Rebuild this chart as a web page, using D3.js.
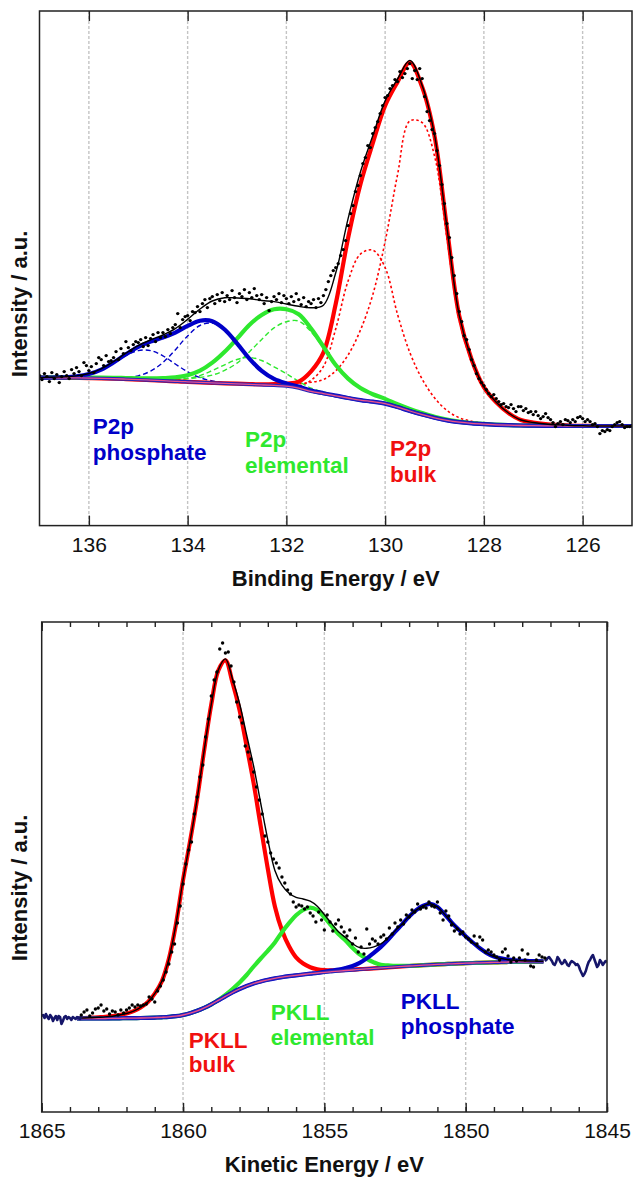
<!DOCTYPE html>
<html>
<head>
<meta charset="utf-8">
<script src="https://cdn.jsdelivr.net/npm/d3@7"></script>
<style>
  body { margin: 0; background: #fff; }
  text { font-family: "Liberation Sans", Arial, Helvetica, sans-serif; }
</style>
</head>
<body>
<div id="chart"></div>
<script>
// ---------- P2p panel: binding energy (eV), intensity (a.u.) ----------
// fitted curves sampled every 0.25 eV from 137 eV down to 125 eV
var p2pStart = 137, p2pStep = -0.25;
var p2pBackground = [
  147.9, 147.9, 147.8, 147.7,
  147.5, 147.2, 146.9, 146.5,
  146.0, 145.5, 144.9, 144.3,
  143.8, 143.2, 142.7, 142.2,
  141.7, 141.2, 140.7, 140.2,
  139.5, 137.5, 134.3, 132.0,
  129.8, 127.6, 125.5, 123.9,
  122.0, 118.5, 114.6, 111.0,
  107.8, 105.2, 103.4, 102.2,
  101.4, 100.8, 100.4, 100.1,
  99.9, 99.8, 99.7, 99.6,
  99.6, 99.6, 99.6, 99.6,
  99.6
];
var p2pFit = [
  147.9, 148.4, 148.7, 149.7,
  152.1, 156.75, 164.0, 172.4,
  180.05, 185.7, 190.6, 196.9,
  206.2, 216.6, 224.6, 227.8,
  227.6, 226.9, 225.1, 224.0,
  221.6, 219.3, 217.8, 220.4,
  252.8, 307.0, 353.55, 389.85,
  424.75, 446.4, 465.2, 440.1,
  390.9, 299.0, 210.5, 166.8,
  138.7, 123.4, 112.6, 105.6,
  103.1, 101.6, 100.7, 100.1,
  99.8, 99.6, 99.6, 99.6,
  99.6
];
var p2pBulk = [
  147.9, 147.9, 147.8, 147.7,
  147.5, 147.2, 146.9, 146.5,
  146.0, 145.5, 144.9, 144.3,
  143.8, 143.2, 142.7, 142.2,
  141.9, 141.5, 141.2, 141.4,
  142.1, 144.0, 154.3, 173.0,
  221.8, 287.6, 341.5, 382.4,
  420.0, 443.5, 463.1, 438.5,
  389.8, 298.2, 209.9, 166.4,
  138.4, 123.2, 112.5, 105.6,
  103.1, 101.6, 100.7, 100.1,
  99.8, 99.6, 99.6, 99.6,
  99.6
];
var p2pBulk32 = [
  147.9, 147.9, 147.8, 147.7,
  147.5, 147.2, 146.9, 146.5,
  146.0, 145.5, 144.9, 144.3,
  143.8, 143.2, 142.7, 142.2,
  141.9, 141.5, 141.2, 141.4,
  142.0, 142.0, 143.3, 146.0,
  154.8, 170.6, 195.5, 230.9,
  284.0, 350.5, 404.6, 403.0,
  369.8, 288.2, 205.4, 164.2,
  137.4, 122.8, 112.4, 105.6,
  103.1, 101.6, 100.7, 100.1,
  99.8, 99.6, 99.6, 99.6,
  99.6
];
var p2pBulk12 = [
  147.9, 147.9, 147.8, 147.7,
  147.5, 147.2, 146.9, 146.5,
  146.0, 145.5, 144.9, 144.3,
  143.8, 143.2, 142.7, 142.2,
  141.7, 141.2, 140.7, 140.2,
  139.6, 139.5, 145.3, 159.0,
  196.8, 244.6, 271.5, 275.4,
  258.0, 211.5, 173.1, 146.5,
  127.8, 115.2, 107.9, 104.4,
  102.4, 101.2, 100.5, 100.1,
  99.9, 99.8, 99.7, 99.6,
  99.6, 99.6, 99.6, 99.6,
  99.6
];
var p2pElemental = [
  147.9, 148.2, 148.2, 148.2,
  148.1, 147.9, 147.8, 147.6,
  147.3, 147.2, 147.5, 148.2,
  150.3, 154.9, 162.9, 173.8,
  186.9, 200.7, 210.6, 216.3,
  216.3, 211.3, 197.0, 179.0,
  160.6, 147.0, 137.55, 131.35,
  126.75, 121.4, 116.7, 112.6,
  108.9, 106.0, 104.0, 102.6,
  101.7, 101.0, 100.5, 100.1,
  99.9, 99.8, 99.7, 99.6,
  99.6, 99.6, 99.6, 99.6,
  99.6
];
var p2pElemental32 = [
  147.9, 148.2, 148.2, 148.2,
  148.1, 147.9, 147.7, 147.4,
  147.0, 146.7, 146.6, 146.6,
  147.1, 148.1, 150.5, 155.2,
  162.5, 173.7, 186.2, 197.7,
  203.9, 204.5, 193.8, 177.4,
  159.7, 146.5, 137.2, 131.1,
  126.6, 121.4, 116.7, 112.6,
  108.9, 106.0, 104.0, 102.6,
  101.7, 101.0, 100.5, 100.1,
  99.9, 99.8, 99.7, 99.6,
  99.6, 99.6, 99.6, 99.6,
  99.6
];
var p2pElemental12 = [
  147.9, 147.9, 147.8, 147.7,
  147.5, 147.2, 147.0, 146.7,
  146.3, 146.0, 145.8, 145.9,
  147.0, 150.0, 155.1, 160.8,
  166.1, 168.2, 165.1, 158.8,
  151.9, 144.3, 137.5, 133.6,
  130.7, 128.1, 125.85, 124.15,
  122.15, 118.5, 114.6, 111.0,
  107.8, 105.2, 103.4, 102.2,
  101.4, 100.8, 100.4, 100.1,
  99.9, 99.8, 99.7, 99.6,
  99.6, 99.6, 99.6, 99.6,
  99.6
];
var p2pPhosphate = [
  147.9, 148.1, 148.3, 149.2,
  151.5, 156.05, 163.1, 171.3,
  178.75, 184.0, 188.0, 193.0,
  199.7, 204.9, 204.4, 196.1,
  182.2, 167.0, 154.7, 146.7,
  142.2, 139.0, 135.1, 132.4,
  130.0, 127.6, 125.5, 123.9,
  122.0, 118.5, 114.6, 111.0,
  107.8, 105.2, 103.4, 102.2,
  101.4, 100.8, 100.4, 100.1,
  99.9, 99.8, 99.7, 99.6,
  99.6, 99.6, 99.6, 99.6,
  99.6
];
var p2pPhosphate32 = [
  147.9, 147.9, 147.8, 147.7,
  147.5, 147.3, 147.3, 147.8,
  149.75, 154.5, 163.1, 175.7,
  189.7, 200.1, 202.5, 195.5,
  182.0, 167.0, 154.7, 146.7,
  142.0, 139.0, 135.1, 132.4,
  130.0, 127.6, 125.5, 123.9,
  122.0, 118.5, 114.6, 111.0,
  107.8, 105.2, 103.4, 102.2,
  101.4, 100.8, 100.4, 100.1,
  99.9, 99.8, 99.7, 99.6,
  99.6, 99.6, 99.6, 99.6,
  99.6
];
var p2pPhosphate12 = [
  147.9, 148.1, 148.3, 149.2,
  151.5, 155.95, 162.7, 170.0,
  175.0, 175.0, 169.8, 161.6,
  153.8, 148.0, 144.6, 142.8,
  141.9, 141.2, 140.7, 140.2,
  139.5, 137.5, 134.3, 132.0,
  129.8, 127.6, 125.5, 123.9,
  122.0, 118.5, 114.6, 111.0,
  107.8, 105.2, 103.4, 102.2,
  101.4, 100.8, 100.4, 100.1,
  99.9, 99.8, 99.7, 99.6,
  99.6, 99.6, 99.6, 99.6,
  99.6
];
// measured points, every 0.05 eV from 137 eV down to 125 eV
var p2pDotStart = 137, p2pDotStep = -0.05;
var p2pCounts = [
  150, 146, 152, 149, 144,  153, 147, 151, 143, 149,
  154, 150, 147, 156, 152,  158, 154, 150, 163, 160,
  155, 159, 153, 162, 168,  166, 160, 170, 164, 165,
  168, 174, 166, 177, 172,  184, 178, 175, 181, 184,
  183, 186, 179, 188, 180,  187, 191, 184, 193, 188,
  193, 189, 196, 192, 198,  201, 212, 198, 206, 209,
  210, 205, 214, 213, 219,  214, 222, 226, 218, 227,
  229, 222, 231, 225, 233,  224, 230, 226, 235, 228,
  223, 232, 229, 236, 226,  233, 228, 237, 230, 226,
  231, 222, 228, 215, 224,  229, 226, 232, 223, 230,
  227, 222, 229, 224, 232,  226, 221, 228, 219, 224,
  222, 226, 218, 227, 223,  230, 236, 244, 250, 255,
  258, 262, 270, 276, 285,  300, 312, 320, 334, 340,
  350, 362, 368, 380, 378,  392, 398, 404, 412, 420,
  428, 430, 437, 440, 446,  444, 454, 448, 452, 457,
  462, 447, 455, 446, 457,  447, 429, 414, 405, 396,
  392, 375, 360, 341, 322,  302, 288, 268, 250, 232,
  214, 204, 190, 186, 176,  166, 160, 152, 147, 143,
  140, 136, 132, 129, 131,  127, 124, 121, 122, 119,
  118, 121, 117, 114, 119,  119, 115, 117, 113, 114,
  111, 114, 110, 107, 109,  112, 108, 106, 103, 99,
  102, 104, 101, 106, 105,  103, 106, 104, 108, 109,
  107, 104, 106, 104, 101,  102, 99, 92, 95, 94,
  96, 95, 99, 101, 103,  104, 101, 98, 99, 99,
  100
];
var p2pTicks = [136, 134, 132, 130, 128, 126];

// ---------- PKLL panel: kinetic energy (eV), intensity (a.u.) ----------
// fitted curves sampled every 0.25 eV from 1863.75 eV down to 1847.25 eV
var pkllStart = 1863.75, pkllStep = -0.25;
var pkllBackground = [
  93.5, 93.5, 93.5, 93.5,
  93.5, 93.6, 93.7, 93.8,
  93.9, 94.0, 94.2, 94.4,
  94.7, 95.1, 95.8, 97.0,
  98.8, 101.2, 104.2, 107.7,
  111.6, 115.6, 119.5, 123.0,
  126.0, 128.5, 130.5, 132.2,
  133.6, 134.8, 135.8, 136.7,
  137.5, 138.3, 139.0, 139.7,
  140.3, 140.9, 141.5, 142.0,
  142.6, 143.1, 143.6, 144.1,
  144.6, 145.1, 145.6, 146.0,
  146.4, 146.8, 147.2, 147.6,
  147.9, 148.2, 148.5, 148.8,
  149.0, 149.2, 149.4, 149.6,
  149.8, 150.0, 150.1, 150.2,
  150.3, 150.4, 150.5
];
var pkllFit = [
  93.8, 94.0, 94.3, 94.7,
  95.1, 95.8, 97.0, 98.5,
  100.9, 104.5, 109.7, 118.4,
  130.7, 153.1, 187.8, 232.0,
  270.8, 313.2, 362.2, 407.7,
  442.1, 453.1, 433.0, 408.5,
  377.0, 345.5, 308.5, 272.2,
  241.6, 226.8, 218.8, 214.7,
  213.0, 210.8, 205.8, 197.4,
  188.6, 180.2, 174.5, 168.3,
  164.3, 163.7, 165.1, 168.1,
  174.1, 181.1, 188.1, 195.7,
  201.9, 206.3, 208.2, 205.1,
  197.9, 189.7, 182.5, 175.8,
  169.5, 163.7, 158.9, 155.4,
  153.6, 152.3, 151.6, 151.2,
  151.0, 150.8, 150.7
];
var pkllBulk = [
  93.8, 94.0, 94.3, 94.7,
  95.1, 95.8, 97.0, 98.5,
  100.9, 104.5, 109.7, 118.4,
  130.7, 153.1, 187.8, 232.0,
  270.8, 313.2, 362.2, 407.7,
  441.6, 451.6, 429.5, 402.0,
  366.0, 328.5, 285.5, 243.2,
  205.6, 181.8, 165.8, 154.7,
  148.5, 144.8, 142.8, 141.9,
  141.6, 141.7, 142.0, 142.3,
  142.8, 143.2, 143.6, 144.1,
  144.6, 145.1, 145.6, 146.0,
  146.4, 146.8, 147.2, 147.6,
  147.9, 148.2, 148.5, 148.8,
  149.0, 149.2, 149.4, 149.6,
  149.8, 150.0, 150.1, 150.2,
  150.3, 150.4, 150.5
];
var pkllElemental = [
  93.5, 93.5, 93.5, 93.5,
  93.5, 93.6, 93.7, 93.8,
  93.9, 94.0, 94.2, 94.4,
  94.7, 95.1, 95.8, 97.0,
  98.8, 101.2, 104.2, 107.7,
  112.1, 117.1, 123.0, 129.5,
  137.0, 145.5, 153.5, 161.2,
  169.6, 179.8, 188.8, 196.7,
  202.0, 204.3, 202.0, 194.7,
  186.3, 177.9, 171.5, 164.0,
  157.6, 153.1, 149.6, 147.1,
  146.6, 146.1, 146.1, 146.2,
  146.4, 146.8, 147.2, 147.6,
  147.9, 148.2, 148.5, 148.8,
  149.0, 149.2, 149.4, 149.6,
  149.8, 150.0, 150.1, 150.2,
  150.3, 150.4, 150.5
];
var pkllPhosphate = [
  93.5, 93.5, 93.5, 93.5,
  93.5, 93.6, 93.7, 93.8,
  93.9, 94.0, 94.2, 94.4,
  94.7, 95.1, 95.8, 97.0,
  98.8, 101.2, 104.2, 107.7,
  111.6, 115.6, 119.5, 123.0,
  126.0, 128.5, 130.5, 132.2,
  133.6, 134.8, 135.8, 136.7,
  137.5, 138.3, 139.0, 140.2,
  141.3, 142.4, 144.0, 146.0,
  149.1, 153.6, 159.1, 165.1,
  172.1, 180.1, 187.6, 195.5,
  201.9, 206.3, 208.2, 205.1,
  197.9, 189.7, 182.5, 175.8,
  169.5, 163.7, 158.9, 155.4,
  153.6, 152.3, 151.6, 151.2,
  151.0, 150.8, 150.7
];
// measured points, every 0.1 eV from 1863.6 eV down to 1847.2 eV
var pkllDotStart = 1863.6, pkllDotStep = -0.1;
var pkllCounts = [
  97, 100, 102, 96, 99, 103, 104, 107, 101, 103,
  98, 101, 100, 97, 102, 99, 102, 104, 107, 105,
  107, 106, 107, 108, 115, 113, 110, 121, 126, 132,
  140, 148, 160, 168, 189, 206, 228, 248, 262, 270,
  298, 315, 335, 347, 375, 393, 416, 432, 440, 463,
  469, 459, 460, 446, 430, 410, 395, 389, 366, 360,
  353, 340, 325, 312, 298, 276, 270, 259, 253, 249,
  244, 235, 229, 222, 218, 210, 205, 207, 206, 203,
  205, 199, 196, 190, 200, 192, 182, 197, 190, 181,
  188, 192, 185, 180, 176, 182, 168, 174, 160, 165,
  158, 183, 168, 173, 171, 168, 175, 177, 173, 184,
  178, 189, 185, 192, 188, 197, 195, 202, 200, 208,
  203, 205, 204, 210, 206, 205, 210, 199, 192, 201,
  196, 187, 181, 183, 178, 180, 175, 173, 170, 176,
  168, 175, 172, 160, 162, 160, 157, 155, 152, 160,
  163, 156, 150, 154, 151, 154, 162, 152, 158, 146,
  145, 152, 157, 155, 154
];
// raw trace outside the fitted window, every 0.05 eV
var pkllEdgeStep = -0.05;
var pkllEdgeLeftStart = 1865;
var pkllEdgeLeft = [
  96, 97, 94, 98, 95, 93, 97, 95, 91, 94,
  96, 92, 96, 95, 88, 91, 95, 96, 93, 95,
  94, 92, 95, 94, 93, 95, 94, 93, 95
];
var pkllEdgeRightStart = 1847.2;
var pkllEdgeRight = [
  151, 152, 154, 155, 153, 151, 148, 147, 150, 155,
  153, 150, 148, 149, 152, 150, 147, 146, 149, 151,
  150, 149, 147, 148, 146, 142, 139, 136, 138, 141,
  146, 150, 152, 155, 157, 153, 149, 145, 147, 152,
  150, 147, 149, 151, 150
];
var pkllTicks = [1865, 1860, 1855, 1850, 1845];
var pkllMinorTicks = d3.range(1845, 1866, 1);

var red = '#ff0000', green = '#2ee82e', blue = '#0000c8';

var width = 633, height = 1177;
var svg = d3.select('#chart').append('svg')
  .attr('width', width)
  .attr('height', height);

function pairs(values, start, step) {
  return values.map((v, i) => [start + i * step, v]);
}

function drawPanel(p) {
  var x = d3.scaleLinear().domain(p.xDomain).range([p.left, p.right]);
  var y = d3.scaleLinear().domain([0, p.yMax]).range([p.bottom, p.top]);
  var smooth = d3.line().x(d => x(d[0])).y(d => y(d[1])).curve(d3.curveCatmullRom.alpha(0.5));
  var straight = d3.line().x(d => x(d[0])).y(d => y(d[1]));

  svg.append('clipPath').attr('id', 'clip-' + p.id)
    .append('rect')
    .attr('x', p.left).attr('y', p.top)
    .attr('width', p.right - p.left).attr('height', p.bottom - p.top);

  var g = svg.append('g');
  var plot = g.append('g').attr('clip-path', `url(#clip-${p.id})`);

  // dotted grey grid at the labelled energies
  plot.selectAll('.grid')
    .data(p.gridTicks)
    .enter().append('line')
    .attr('class', 'grid')
    .attr('x1', d => x(d)).attr('x2', d => x(d))
    .attr('y1', p.top).attr('y2', p.bottom)
    .attr('stroke', '#c4c4c4')
    .attr('stroke-width', 1.4)
    .attr('stroke-dasharray', '3,2');

  // doublet components, thin dashed / dotted
  p.thin.forEach(c => {
    plot.append('path')
      .attr('d', smooth(pairs(c.values, p.start, p.step)))
      .attr('fill', 'none')
      .attr('stroke', c.color)
      .attr('stroke-width', c.width)
      .attr('stroke-dasharray', c.dash);
  });

  // component envelopes, thick
  p.thick.forEach(c => {
    plot.append('path')
      .attr('d', smooth(pairs(c.values, p.start, p.step)))
      .attr('fill', 'none')
      .attr('stroke', c.color)
      .attr('stroke-width', 4.2)
      .attr('stroke-linejoin', 'round');
  });

  // Shirley background band
  var bg = smooth(pairs(p.background, p.start, p.step));
  plot.append('path').attr('d', bg).attr('fill', 'none')
    .attr('stroke', '#2525b8').attr('stroke-width', 3.4);
  plot.append('path').attr('d', bg).attr('fill', 'none')
    .attr('stroke', '#f0508a').attr('stroke-width', 1.3);

  // total fit
  plot.append('path')
    .attr('d', smooth(pairs(p.fit, p.start, p.step)))
    .attr('fill', 'none')
    .attr('stroke', '#000')
    .attr('stroke-width', 1.4);

  // raw trace outside the fit window
  (p.edges || []).forEach(e => {
    plot.append('path')
      .attr('d', straight(pairs(e.values, e.start, e.step)))
      .attr('fill', 'none')
      .attr('stroke', '#16166a')
      .attr('stroke-width', 2.6)
      .attr('stroke-linejoin', 'round');
  });

  // measured points
  plot.selectAll('.dot')
    .data(pairs(p.counts, p.dotStart, p.dotStep))
    .enter().append('circle')
    .attr('class', 'dot')
    .attr('cx', d => x(d[0]))
    .attr('cy', d => y(d[1]))
    .attr('r', 1.7)
    .attr('fill', '#000');

  // frame
  g.append('rect')
    .attr('x', p.left).attr('y', p.top)
    .attr('width', p.right - p.left).attr('height', p.bottom - p.top)
    .attr('fill', 'none')
    .attr('stroke', '#222')
    .attr('stroke-width', 1.5);

  // minor ticks (inward) on both edges
  if (p.minorTicks) {
    g.append('g')
      .attr('transform', `translate(0,${p.bottom})`)
      .call(d3.axisBottom(x).tickValues(p.minorTicks).tickSize(-5).tickFormat(''))
      .call(a => a.select('.domain').remove());
    g.append('g')
      .attr('transform', `translate(0,${p.top})`)
      .call(d3.axisTop(x).tickValues(p.minorTicks).tickSize(-5).tickFormat(''))
      .call(a => a.select('.domain').remove());
  }

  // major ticks (inward) with labels below
  var xAxis = g.append('g')
    .attr('transform', `translate(0,${p.bottom})`)
    .call(d3.axisBottom(x).tickValues(p.ticks).tickSize(-p.majorSize).tickPadding(11).tickFormat(d3.format('d')))
    .call(a => a.select('.domain').remove());
  xAxis.attr('font-size', 21).attr('font-family', '"Liberation Sans", Arial, sans-serif');
  xAxis.selectAll('text').attr('fill', '#111');
  g.append('g')
    .attr('transform', `translate(0,${p.top})`)
    .call(d3.axisTop(x).tickValues(p.ticks).tickSize(-p.majorSize).tickFormat(''))
    .call(a => a.select('.domain').remove());
  g.selectAll('.tick line').attr('stroke', '#222').attr('stroke-width', 1.4);

  // axis titles
  g.append('text')
    .attr('x', (p.left + p.right) / 2)
    .attr('y', p.bottom + 60)
    .attr('text-anchor', 'middle')
    .style('font-size', '22px')
    .style('font-weight', 'bold')
    .attr('fill', '#111')
    .text(p.xTitle);

  g.append('text')
    .attr('transform', `translate(27,${p.yTitleCenter}) rotate(-90)`)
    .attr('text-anchor', 'middle')
    .style('font-size', '22px')
    .style('font-weight', 'bold')
    .attr('fill', '#111')
    .text('Intensity / a.u.');

  // component labels
  p.labels.forEach(l => {
    var t = g.append('text')
      .attr('fill', l.color)
      .style('font-size', '22.5px')
      .style('font-weight', 'bold');
    l.lines.forEach((s, i) => {
      t.append('tspan')
        .attr('x', x(l.energy))
        .attr('y', y(l.level) + i * l.gap)
        .text(s);
    });
  });
}

drawPanel({
  id: 'p2p',
  xDomain: [137, 125], left: 39.5, right: 632,
  yMax: 514.6, top: 11, bottom: 525.6,
  start: p2pStart, step: p2pStep,
  background: p2pBackground, fit: p2pFit,
  thin: [
    {values: p2pBulk32, color: red, width: 1.6, dash: '2.5,2.5'},
    {values: p2pBulk12, color: red, width: 1.6, dash: '2.5,2.5'},
    {values: p2pElemental32, color: green, width: 1.4, dash: '5,3'},
    {values: p2pElemental12, color: green, width: 1.4, dash: '5,3'},
    {values: p2pPhosphate32, color: blue, width: 1.4, dash: '5,3'},
    {values: p2pPhosphate12, color: blue, width: 1.4, dash: '5,3'}
  ],
  thick: [
    {values: p2pBulk, color: red},
    {values: p2pElemental, color: green},
    {values: p2pPhosphate, color: blue}
  ],
  counts: p2pCounts, dotStart: p2pDotStart, dotStep: p2pDotStep,
  ticks: p2pTicks, gridTicks: p2pTicks, majorSize: 10,
  xTitle: 'Binding Energy / eV', yTitleCenter: 304,
  labels: [
    {lines: ['P2p', 'phosphate'], color: blue, energy: 135.92, level: 91.6, gap: 26},
    {lines: ['P2p', 'elemental'], color: green, energy: 132.84, level: 78.6, gap: 26},
    {lines: ['P2p', 'bulk'], color: '#f01010', energy: 129.9, level: 69.6, gap: 26}
  ]
});

drawPanel({
  id: 'pkll',
  xDomain: [1865, 1845], left: 41.7, right: 607,
  yMax: 490, top: 622, bottom: 1112,
  start: pkllStart, step: pkllStep,
  background: pkllBackground, fit: pkllFit,
  thin: [],
  thick: [
    {values: pkllBulk, color: red},
    {values: pkllElemental, color: green},
    {values: pkllPhosphate, color: blue}
  ],
  edges: [
    {values: pkllEdgeLeft, start: pkllEdgeLeftStart, step: pkllEdgeStep},
    {values: pkllEdgeRight, start: pkllEdgeRightStart, step: pkllEdgeStep}
  ],
  counts: pkllCounts, dotStart: pkllDotStart, dotStep: pkllDotStep,
  ticks: pkllTicks, gridTicks: [1860, 1855, 1850], minorTicks: pkllMinorTicks, majorSize: 9,
  xTitle: 'Kinetic Energy / eV', yTitleCenter: 888,
  labels: [
    {lines: ['PKLL', 'bulk'], color: '#f01010', energy: 1859.8, level: 64, gap: 24},
    {lines: ['PKLL', 'elemental'], color: green, energy: 1856.9, level: 92, gap: 25},
    {lines: ['PKLL', 'phosphate'], color: blue, energy: 1852.3, level: 103, gap: 25}
  ]
});
</script>
</body>
</html>
